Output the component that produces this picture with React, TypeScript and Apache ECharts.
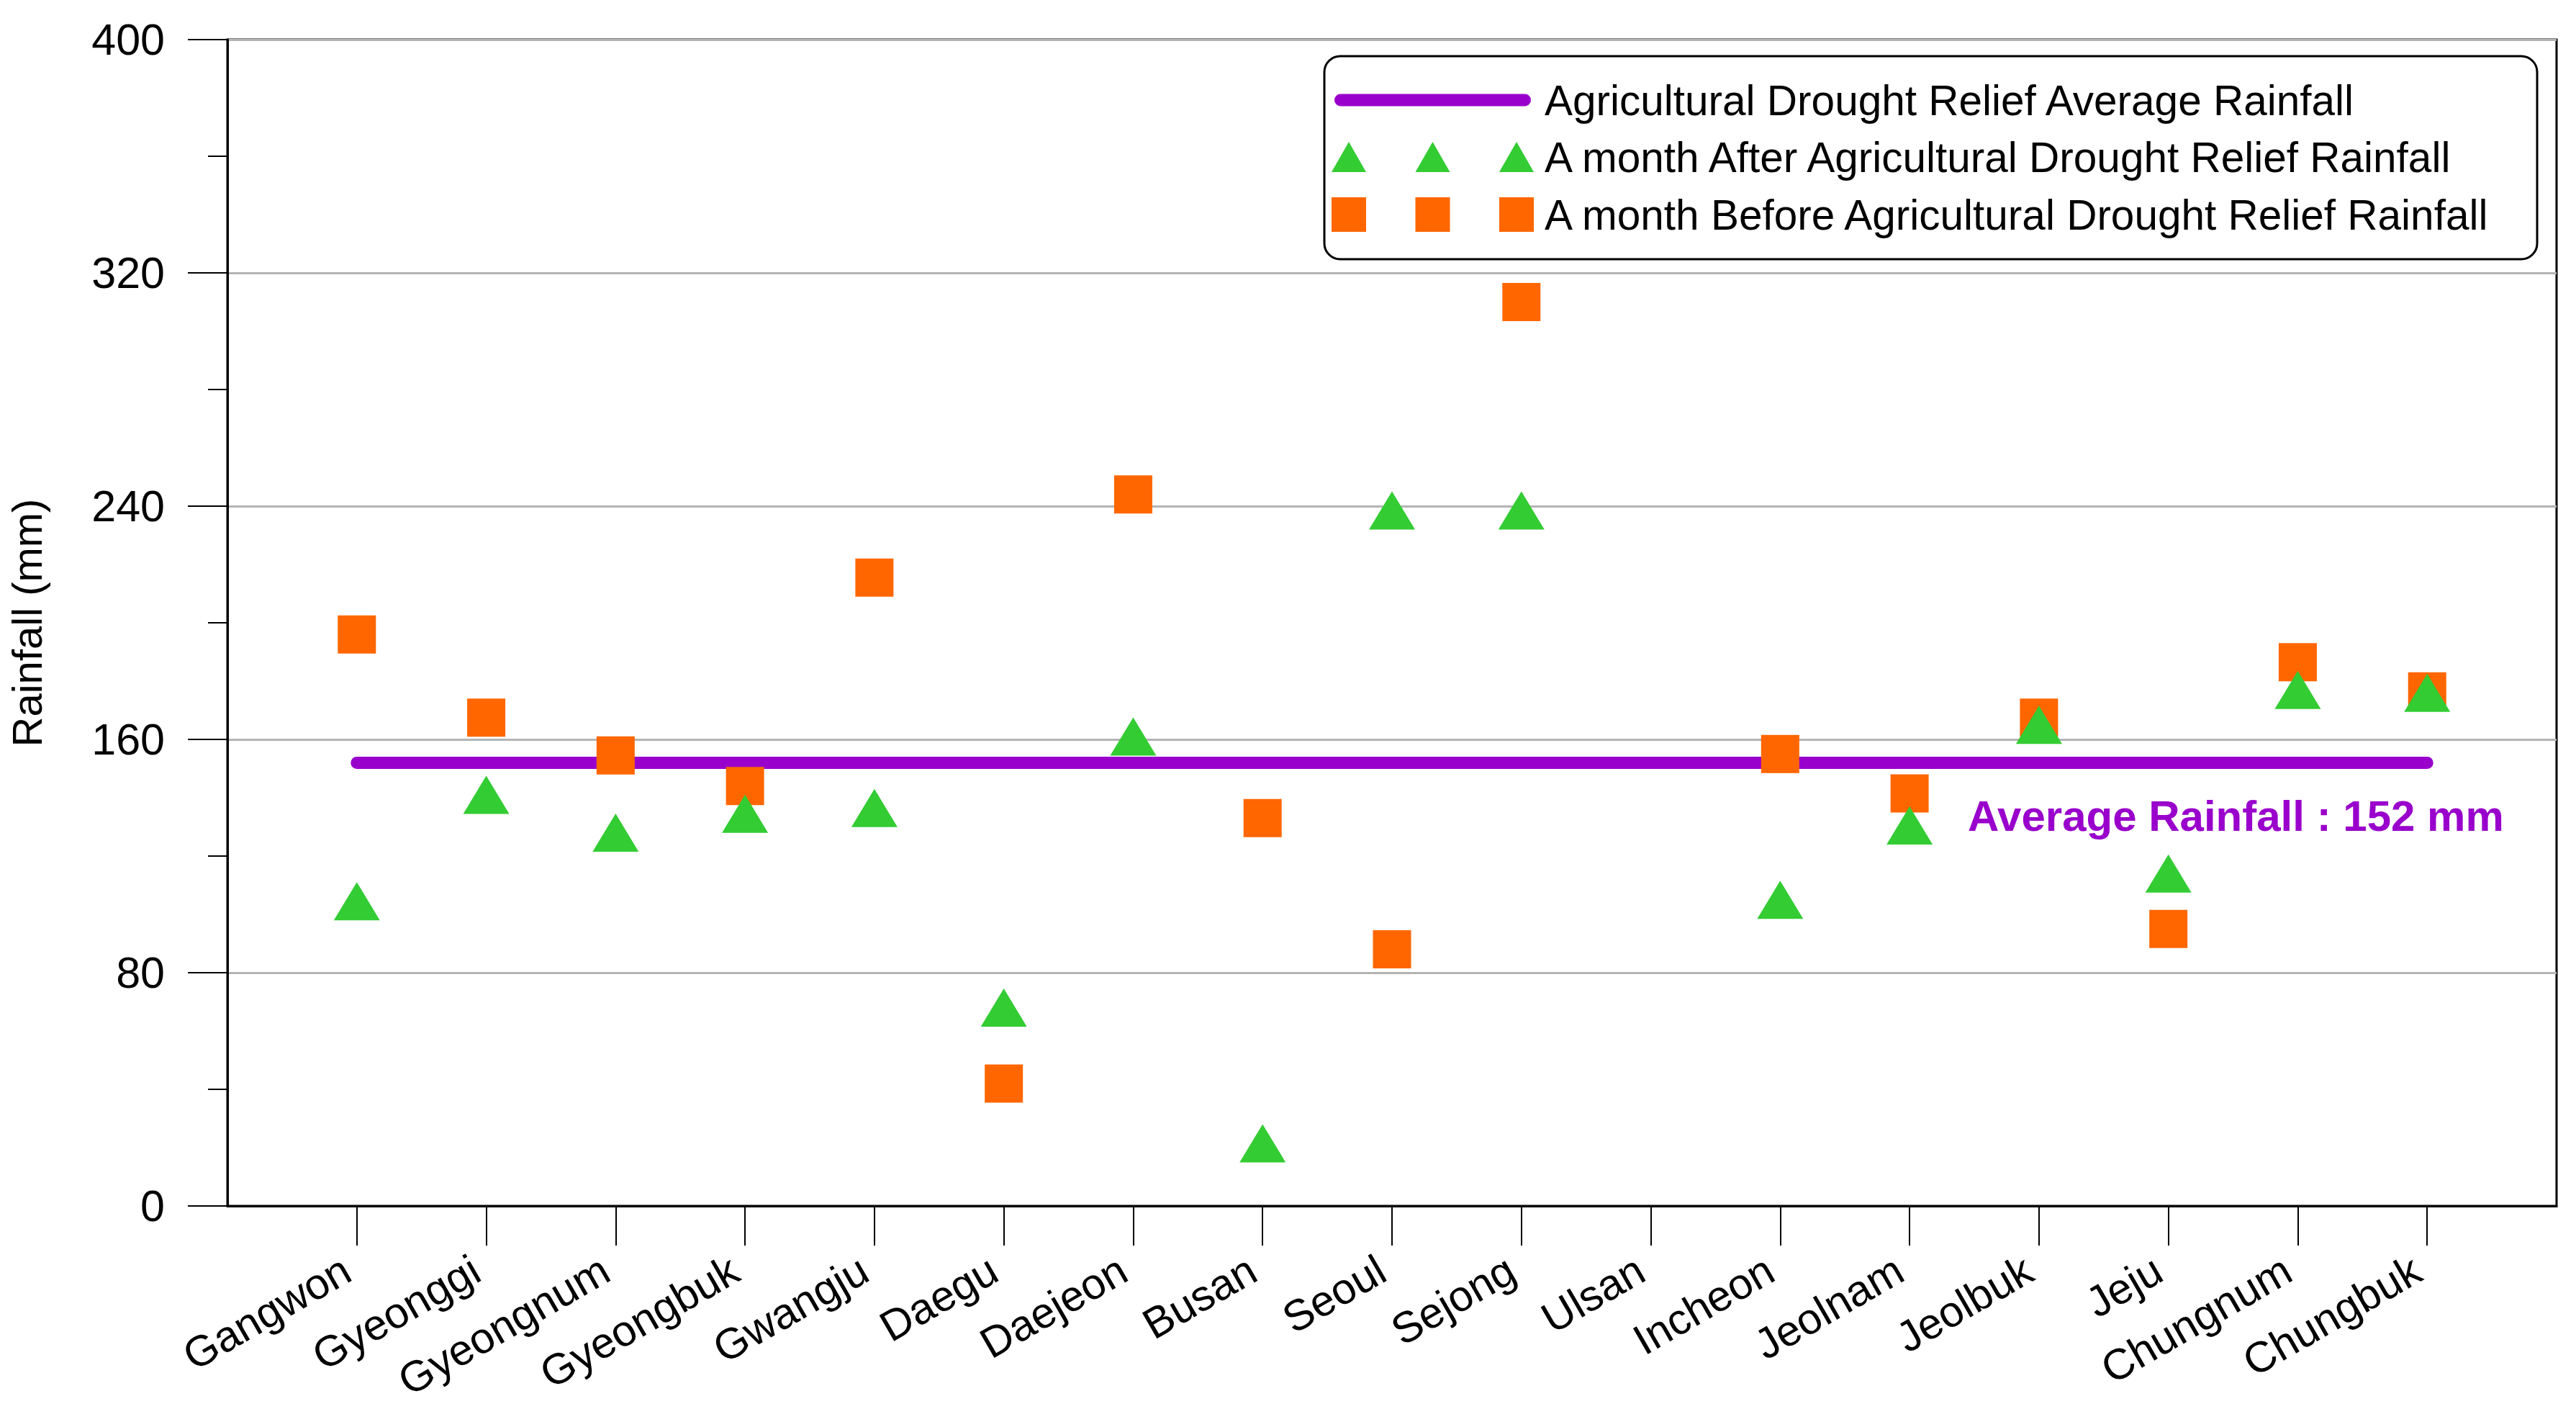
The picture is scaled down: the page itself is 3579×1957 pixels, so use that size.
import React, { useEffect, useRef } from "react";
import * as echarts from "echarts";

// ---- data ----
const regions = [
  "Gangwon", "Gyeonggi", "Gyeongnum", "Gyeongbuk", "Gwangju", "Daegu", "Daejeon", "Busan",
  "Seoul", "Sejong", "Ulsan", "Incheon", "Jeolnam", "Jeolbuk", "Jeju", "Chungnum", "Chungbuk",
];
const beforeRainfall: (number | null)[] = [
  196, 167.5, 154.5, 144, 215.5, 42, 244, 133, 88, 310, null, 155, 141.5, 167.5, 95, 186.5, 176.5,
];
const afterRainfall: (number | null)[] = [
  104.5, 141, 128, 134.5, 136.5, 68, 161, 21.5, 238.5, 238.5, null, 105, 130.5, 165, 114, 177, 176,
];
const averageRainfall = 152;
const yMin = 0;
const yMax = 400;
const yInterval = 80;

const avgName = "Agricultural Drought Relief Average Rainfall";
const afterName = "A month After Agricultural Drought Relief Rainfall";
const beforeName = "A month Before Agricultural Drought Relief Rainfall";
const avgLabel = "Average Rainfall : 152 mm";
const yName = "Rainfall (mm)";

const FONT = "Liberation Sans, Arial, Helvetica, sans-serif";
const PURPLE = "#9900CC";
const GREEN = "#33CC33";
const ORANGE = "#FF6600";

export default function App() {
  const ref = useRef<HTMLDivElement>(null);

  useEffect(() => {
    document.body.style.margin = "0";
    const chart = echarts.init(ref.current!, null, { renderer: "svg" });

    const axisCats = ["", ...regions, " "];
    const inner = (i: number) => i > 0 && i < axisCats.length - 1;
    const toPairs = (vals: (number | null)[]) =>
      regions
        .map((r, i) => (vals[i] == null ? null : [r, vals[i]]))
        .filter((d) => d !== null);

    const legendText = {
      fontSize: 58.5,
      color: "#000",
      fontFamily: FONT,
      lineHeight: 60,
    };

    const option: any = {
      animation: false,
      backgroundColor: "#fff",
      grid: {
        left: 311,
        top: 55,
        right: 27,
        bottom: 282,
        show: true,
        borderColor: "#000",
        borderWidth: 3,
        containLabel: false,
      },
      xAxis: {
        type: "category",
        data: axisCats,
        boundaryGap: false,
        axisLine: { show: true, onZero: false, lineStyle: { color: "#000", width: 3 } },
        axisTick: {
          show: true,
          inside: false,
          length: 55,
          interval: (i: number) => inner(i),
          lineStyle: { color: "#000", width: 2 },
        },
        axisLabel: {
          interval: (i: number) => inner(i),
          rotate: 30,
          margin: 76,
          padding: [0, 16, 0, 0],
          fontSize: 60,
          color: "#000",
          fontFamily: FONT,
          hideOverlap: false,
        },
        splitLine: { show: false },
      },
      yAxis: {
        type: "value",
        min: yMin,
        max: yMax,
        interval: yInterval,
        name: yName,
        nameLocation: "middle",
        nameGap: 250,
        nameRotate: 90,
        nameTextStyle: { fontSize: 58, color: "#000", fontFamily: FONT },
        axisLine: { show: true, lineStyle: { color: "#000", width: 3 } },
        axisTick: { show: true, inside: false, length: 55, lineStyle: { color: "#000", width: 2 } },
        minorTick: { show: true, splitNumber: 2, length: 27, lineStyle: { color: "#000", width: 2 } },
        axisLabel: { fontSize: 61, color: "#000", fontFamily: FONT, margin: 87 },
        splitLine: { show: true, lineStyle: { color: "#b4b4b4", width: 3 } },
        minorSplitLine: { show: false },
      },
      legend: [
        {
          z: 10,
          left: 1854,
          top: 109,
          padding: 0,
          orient: "horizontal",
          selectedMode: false,
          itemWidth: 273,
          itemHeight: 17,
          symbolKeepAspect: false,
          itemStyle: { borderWidth: 0 },
          data: [
            {
              name: avgName,
              icon: "path://M8.5,0 L264.5,0 A8.5,8.5 0 0 1 264.5,17 L8.5,17 A8.5,8.5 0 0 1 8.5,0 Z",
            },
          ],
          textStyle: { ...legendText, padding: [0, 0, 0, 14] },
        },
        {
          z: 10,
          left: 1850,
          top: 188,
          padding: 0,
          orient: "horizontal",
          selectedMode: false,
          itemWidth: 281,
          itemHeight: 42,
          symbolKeepAspect: false,
          itemStyle: { borderWidth: 0 },
          data: [
            {
              name: afterName,
              icon:
                "path://M0,42 L24,0 L48,42 Z M116.5,42 L140.5,0 L164.5,42 Z M233,42 L257,0 L281,42 Z",
            },
          ],
          textStyle: { ...legendText, padding: [0, 0, 0, 10] },
        },
        {
          z: 10,
          left: 1850,
          top: 268,
          padding: 0,
          orient: "horizontal",
          selectedMode: false,
          itemWidth: 281,
          itemHeight: 48,
          symbolKeepAspect: false,
          itemStyle: { borderWidth: 0 },
          data: [
            {
              name: beforeName,
              icon:
                "path://M0,0 L48,0 L48,48 L0,48 Z M116.5,0 L164.5,0 L164.5,48 L116.5,48 Z M233,0 L281,0 L281,48 L233,48 Z",
            },
          ],
          textStyle: { ...legendText, padding: [0, 0, 0, 10] },
        },
      ],
      graphic: [
        {
          type: "rect",
          z: 3,
          shape: { x: 1840, y: 78, width: 1685, height: 282, r: 22 },
          style: { fill: "#fff", stroke: "#000", lineWidth: 3 },
        },
        {
          type: "text",
          z: 20,
          left: 2734,
          top: 1103,
          style: {
            text: avgLabel,
            fill: PURPLE,
            font: `bold 60px ${FONT}`,
          },
        },
      ],
      series: [
        {
          name: avgName,
          type: "line",
          z: 2,
          data: [
            [regions[0], averageRainfall],
            [regions[regions.length - 1], averageRainfall],
          ],
          symbol: "none",
          color: PURPLE,
          itemStyle: { color: PURPLE },
          lineStyle: { color: PURPLE, width: 17, cap: "round" },
        },
        {
          name: beforeName,
          type: "scatter",
          z: 3,
          data: toPairs(beforeRainfall),
          symbol: "rect",
          symbolSize: 53,
          itemStyle: { color: ORANGE, opacity: 1 },
        },
        {
          name: afterName,
          type: "scatter",
          z: 4,
          data: toPairs(afterRainfall),
          symbol: "triangle",
          symbolSize: [64, 53],
          itemStyle: { color: GREEN, opacity: 1 },
        },
      ],
    };

    chart.setOption(option);
    return () => chart.dispose();
  }, []);

  return (
    <div
      ref={ref}
      style={{ position: "absolute", left: 0, top: 0, width: 3579, height: 1957, overflow: "hidden" }}
    />
  );
}
